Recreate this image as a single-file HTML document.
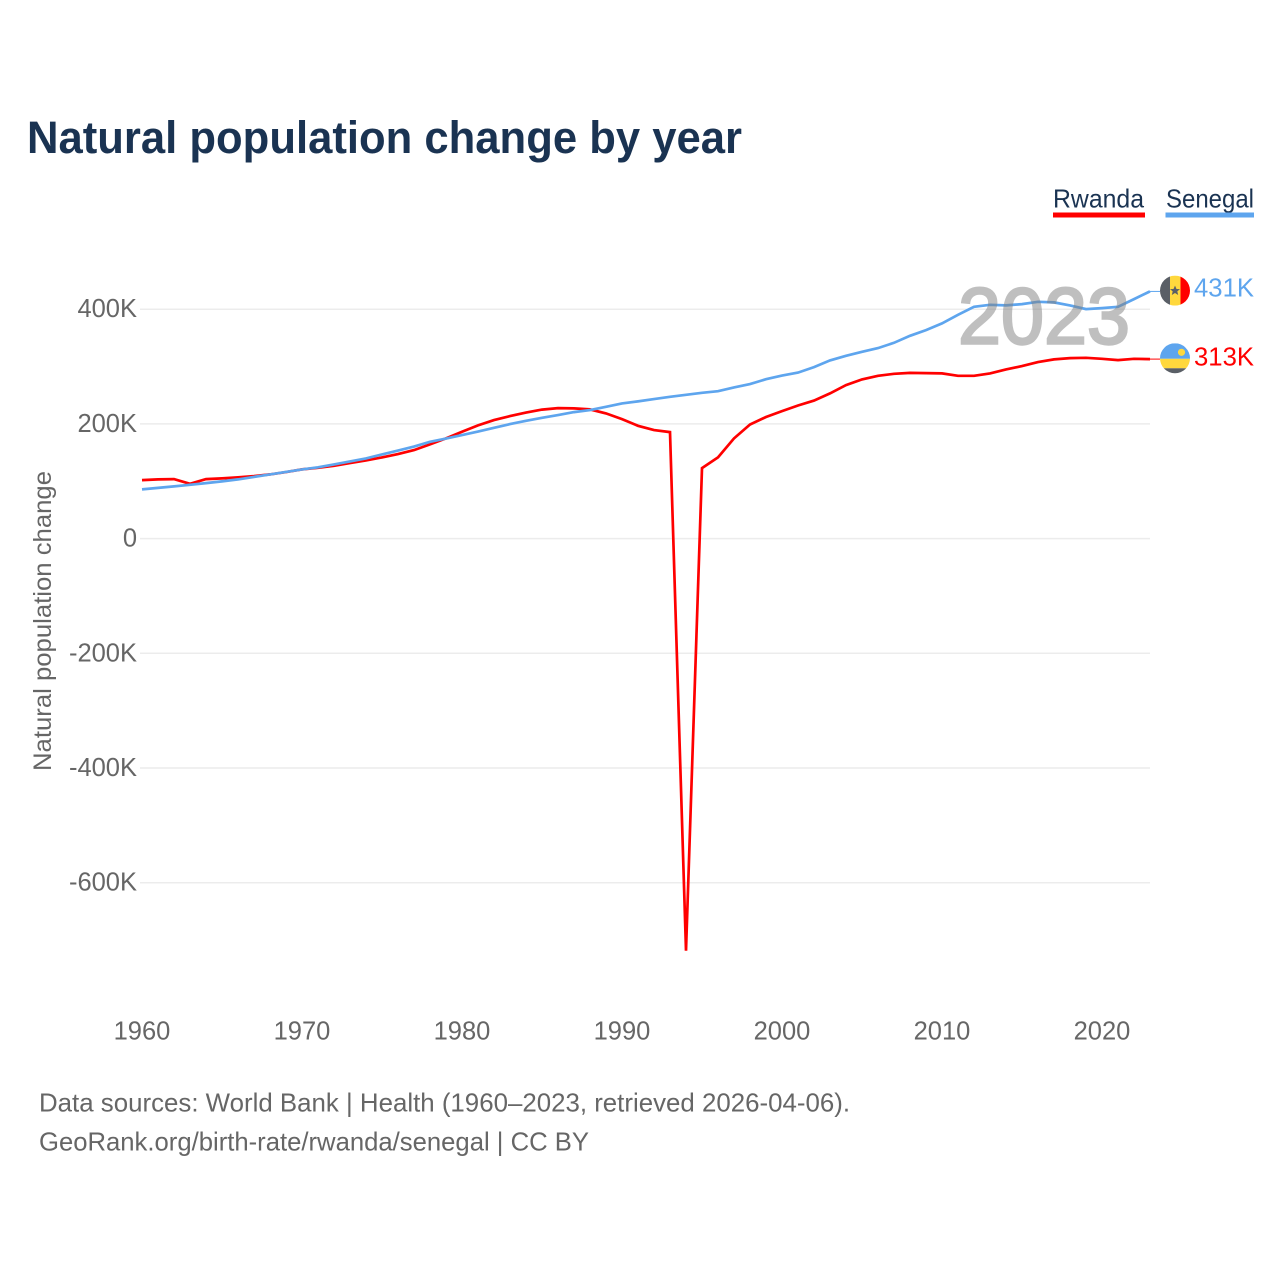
<!DOCTYPE html>
<html lang="en">
<head>
<meta charset="utf-8">
<title>Natural population change by year</title>
<style>
html,body{margin:0;padding:0;background:#fff;}
svg{display:block;font-family:"Liberation Sans",sans-serif;}
</style>
</head>
<body>
<svg id="chart" width="1280" height="1280" viewBox="0 0 1280 1280" xmlns="http://www.w3.org/2000/svg">
  <defs>
    <clipPath id="flag-clip"><circle cx="0" cy="0" r="15"></circle></clipPath>
  </defs>
  <rect x="0" y="0" width="1280" height="1280" fill="#fff"></rect>
  <text x="27" y="153" font-size="45" font-weight="700" fill="#1a3352" textLength="715" lengthAdjust="spacingAndGlyphs">Natural population change by year</text>

  <g>
    <g>
      <text x="1053" y="207.5" font-size="26" fill="#1a3352" textLength="91" lengthAdjust="spacingAndGlyphs">Rwanda</text>
      <rect x="1053" y="212.5" width="92" height="5" fill="#ff0000"></rect>
    </g>
    <g>
      <text x="1166" y="207.5" font-size="26" fill="#1a3352" textLength="88" lengthAdjust="spacingAndGlyphs">Senegal</text>
      <rect x="1165.5" y="212.5" width="88.5" height="5" fill="#5ea5ee"></rect>
    </g>
  </g>

  <g id="grid"></g>
  <g id="y-axis"></g>
  <g id="x-axis"></g>
  <text transform="translate(51,771) rotate(-90)" x="0" y="0" font-size="25" fill="#666" textLength="300" lengthAdjust="spacingAndGlyphs">Natural population change</text>

  <g id="series"></g>

  <text x="958" y="343.5" font-size="80" fill="#808080" stroke="#808080" stroke-width="2.4" opacity="0.5" textLength="172" lengthAdjust="spacingAndGlyphs">2023</text>

  <g id="flag-senegal">
    <g clip-path="url(#flag-clip)">
      <rect x="-15" y="-15" width="10" height="30" fill="#5a5f66"></rect>
      <rect x="-5" y="-15" width="10.5" height="30" fill="#ffd83d"></rect>
      <rect x="5.5" y="-15" width="10" height="30" fill="#ff0000"></rect>
      <polygon points="0,-5 1.5,-1.6 5,-1.5 2.3,0.8 3.2,4.4 0,2.4 -3.2,4.4 -2.3,0.8 -5,-1.5 -1.5,-1.6" fill="#5a5f66"></polygon>
    </g>
  </g>
  <g id="flag-rwanda">
    <g clip-path="url(#flag-clip)">
      <rect x="-15" y="-15" width="30" height="15.5" fill="#5ea5ee"></rect>
      <rect x="-15" y="0.5" width="30" height="9.5" fill="#ffd83d"></rect>
      <rect x="-15" y="10" width="30" height="6" fill="#5a5f66"></rect>
      <circle cx="6.5" cy="-6" r="3.6" fill="#ffd83d"></circle>
    </g>
  </g>
  <text id="value-senegal" x="1194" y="297" font-size="25.5" fill="#5ea5ee" textLength="60" lengthAdjust="spacingAndGlyphs"></text>
  <text id="value-rwanda" x="1194" y="366" font-size="25.5" fill="#ff0000" textLength="60" lengthAdjust="spacingAndGlyphs"></text>

  <g>
    <text x="39" y="1111.5" font-size="26" fill="#666" textLength="811" lengthAdjust="spacingAndGlyphs">Data sources: World Bank | Health (1960–2023, retrieved 2026-04-06).</text>
    <text x="39" y="1150.5" font-size="26" fill="#666" textLength="550" lengthAdjust="spacingAndGlyphs">GeoRank.org/birth-rate/rwanda/senegal | CC BY</text>
  </g>
</svg>
<script>
const startYear = 1960;
const yTicks = [400, 200, 0, -200, -400, -600];
const xTicks = [1960, 1970, 1980, 1990, 2000, 2010, 2020];
const rwanda = [102,103.2,103.7,95.5,103.7,105,106.7,109,112,116,120.7,123.5,127,131.6,136.4,141.6,147.3,154.3,164.3,174.7,186.2,197.4,206.6,213.6,219.7,225,227.5,227,225.3,218.3,208.4,196.7,189.2,185.7,-718.5,123,141.6,174.7,199,212,222.3,232,240.6,253.2,267.7,277.6,283.9,287.4,289,288.6,288,283.9,283.9,288,295,300.8,307.8,312.5,314.7,315.3,313.5,311.2,313.5,313];
const senegal = [85.8,88.4,91,93.8,96.8,99.7,103.2,107.6,112,116.3,120.7,124.3,129.4,134.6,139.8,146.8,153.5,160.5,168.8,174.4,180.5,186.6,193.2,199.7,205.4,210.6,215.3,220.6,224,229.8,235.7,239.2,243.2,247.3,250.8,254.3,257.1,263.6,269.4,278,284.2,289.5,299,310.7,318.7,325.7,332.2,341.4,353.6,363.5,375.2,390.2,404.2,407.7,406.6,408.9,412.9,411.9,406.6,400.2,401.9,404.2,417.6,431];

const SVGNS = 'http://www.w3.org/2000/svg';
function xScale(year) { return 142 + (year - 1960) * 16; }
function yScale(k) { return 538.6 - k * 0.5735; }
function formatTick(k) { return k === 0 ? '0' : k + 'K'; }
function make(tag, attrs, parent) {
  const el = document.createElementNS(SVGNS, tag);
  for (const key in attrs) el.setAttribute(key, attrs[key]);
  parent.appendChild(el);
  return el;
}

const gridGroup = document.getElementById('grid');
const yGroup = document.getElementById('y-axis');
yTicks.forEach(function (t) {
  const line = make('line', { x1: 140, x2: 1150, y1: yScale(t), y2: yScale(t), stroke: '#ececec', 'stroke-width': 1.5 }, gridGroup);
  
  
  const label = make('text', { x: 137, y: yScale(t) + 8, 'text-anchor': 'end', 'font-size': 25.5, fill: '#666' }, yGroup);
  
  
  label.textContent = formatTick(t);
});

const xGroup = document.getElementById('x-axis');
xTicks.forEach(function (t) {
  const label = make('text', { x: xScale(t), y: 1039.5, 'text-anchor': 'middle', 'font-size': 25.5, fill: '#666' }, xGroup);
  
  
  label.textContent = String(t);
});

function linePath(values) {
  return values.map(function (v, i) {
    return (i ? 'L' : 'M') + xScale(startYear + i).toFixed(1) + ' ' + yScale(v).toFixed(1);
  }).join(' ');
}

const seriesGroup = document.getElementById('series');
const redLine = make('path', { d: linePath(rwanda), fill: 'none', stroke: '#ff0000', 'stroke-width': 2.7, 'stroke-linejoin': 'miter' }, seriesGroup);


const blueLine = make('path', { d: linePath(senegal), fill: 'none', stroke: '#5ea5ee', 'stroke-width': 2.7 }, seriesGroup);



const lastYear = startYear + rwanda.length - 1;
const lastRwanda = rwanda[rwanda.length - 1];
const lastSenegal = senegal[senegal.length - 1];

const redLink = make('line', { x1: xScale(lastYear), x2: 1160, y1: yScale(lastRwanda), y2: yScale(lastRwanda), stroke: '#ff0000', 'stroke-width': 1 }, seriesGroup);


const blueLink = make('line', { x1: xScale(lastYear), x2: 1160, y1: yScale(lastSenegal), y2: yScale(lastSenegal), stroke: '#5ea5ee', 'stroke-width': 1 }, seriesGroup);



document.getElementById('flag-senegal').setAttribute('transform', 'translate(1175,' + (yScale(lastSenegal) - 0.8) + ')');
document.getElementById('flag-rwanda').setAttribute('transform', 'translate(1175,' + (yScale(lastRwanda) - 0.8) + ')');
const senegalValue = document.getElementById('value-senegal');
senegalValue.textContent = Math.round(lastSenegal) + 'K';
senegalValue.setAttribute('y', yScale(lastSenegal) + 5.3);
const rwandaValue = document.getElementById('value-rwanda');
rwandaValue.textContent = Math.round(lastRwanda) + 'K';
rwandaValue.setAttribute('y', yScale(lastRwanda) + 6.3);
</script>
</body>
</html>
